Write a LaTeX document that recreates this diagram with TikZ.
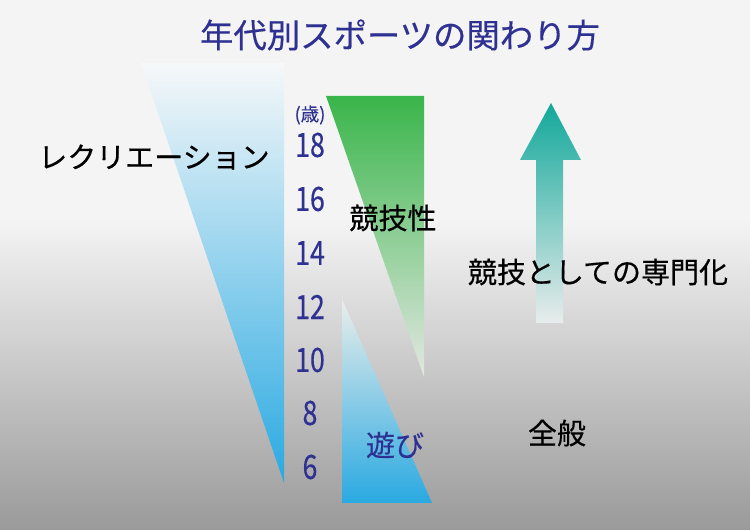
\documentclass[tikz,border=0pt]{standalone}
\usepackage{fontspec}
\setmainfont{Noto Sans CJK JP}[FakeBold=0.4]
\usepackage{tikz}

\definecolor{dkblue}{HTML}{2E3192}
\definecolor{bggray}{HTML}{F4F4F4}
\definecolor{bgdark}{HTML}{9A9A9A}
\definecolor{skyblue}{HTML}{29A9E1}
\definecolor{paleblue}{HTML}{F6F8F9}
\definecolor{leafgreen}{HTML}{39B54A}
\definecolor{palegreen}{HTML}{E3E8E2}
\definecolor{teal}{HTML}{12A89A}
\definecolor{paleteal}{HTML}{E8ECEC}

\tikzset{
  title/.style={text=dkblue, font=\fontsize{19}{19}\selectfont},
  age/.style={text=dkblue, font=\fontsize{19}{19}\selectfont},
  unit/.style={text=dkblue, font=\fontsize{10.5}{10.5}\selectfont},
  label/.style={text=black, font=\fontsize{16.5}{16.5}\selectfont},
}

\begin{document}
\begin{tikzpicture}[x=0.02cm, y=0.02cm]
  \useasboundingbox (0,0) rectangle (750,530);
  \fill[bggray] (0,310) rectangle (750,530);
  \shade[top color=bggray, bottom color=bgdark] (0,0) rectangle (750,310.5);

  \shade[top color=paleblue, bottom color=skyblue] (141,467) -- (284,467) -- (284,47) -- cycle;
  \shade[top color=leafgreen, bottom color=palegreen] (326,434) -- (424,434) -- (424,153) -- cycle;
  \shade[top color=palegreen!60!paleblue, bottom color=skyblue] (342,231) -- (342,27) -- (432,27) -- cycle;
  \shade[top color=teal, bottom color=paleteal] (551,427) -- (581,370) -- (563,370) -- (563,207)
    -- (536,207) -- (536,370) -- (520,370) -- cycle;

  \node[title] (ttl) at (400,495) {年代別スポーツの関わり方};

  \node[unit] (sai) at (310,415) {(歳)};
  \node[age] (a18) at (310,385) {\scalebox{0.8}[1]{18}};
  \node[age] (a16) at (310,331) {\scalebox{0.8}[1]{16}};
  \node[age] (a14) at (310,277) {\scalebox{0.8}[1]{14}};
  \node[age] (a12) at (310,223) {\scalebox{0.8}[1]{12}};
  \node[age] (a10) at (310,170) {\scalebox{0.8}[1]{10}};
  \node[age] (a8) at (310,117) {\scalebox{0.8}[1]{8}};
  \node[age] (a6) at (310,63) {\scalebox{0.8}[1]{6}};

  \node[label] (rec) at (154,373) {レクリエーション};
  \node[label] (comp) at (393,312) {競技性};
  \node[label] (spec) at (598,258) {競技としての専門化};
  \node[label] (gen) at (557,97) {全般};
  \node[label, text=dkblue] (play) at (395,85) {遊び};
\end{tikzpicture}
\end{document}
